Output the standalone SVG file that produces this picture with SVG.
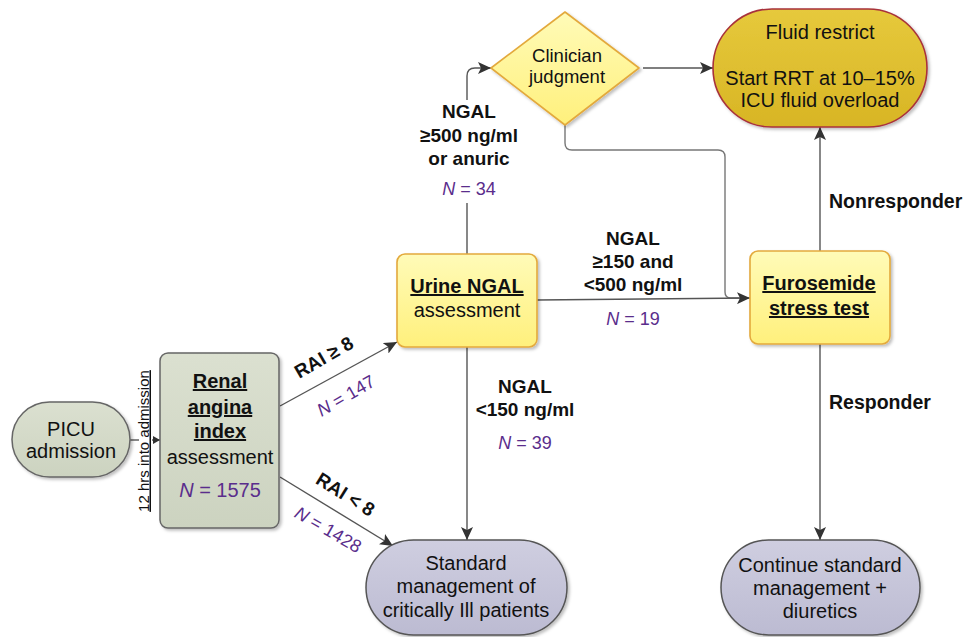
<svg xmlns="http://www.w3.org/2000/svg" width="964" height="637" viewBox="0 0 964 637">
<defs>
<linearGradient id="gYellow" x1="0" y1="0" x2="0" y2="1"><stop offset="0" stop-color="#fffbb8"/><stop offset="1" stop-color="#fff07c"/></linearGradient>
<linearGradient id="gGold" x1="0" y1="0" x2="0" y2="1"><stop offset="0" stop-color="#e6c93c"/><stop offset="1" stop-color="#d8b524"/></linearGradient>
<linearGradient id="gGreen" x1="0" y1="0" x2="0" y2="1"><stop offset="0" stop-color="#dbe0d0"/><stop offset="1" stop-color="#ccd3c0"/></linearGradient>
<linearGradient id="gLav" x1="0" y1="0" x2="0" y2="1"><stop offset="0" stop-color="#cfcee0"/><stop offset="1" stop-color="#bcbbd2"/></linearGradient>
<filter id="sh" x="-10%" y="-10%" width="130%" height="130%"><feDropShadow dx="2" dy="2" stdDeviation="1.5" flood-color="#000" flood-opacity="0.25"/></filter>
<marker id="arr" markerUnits="userSpaceOnUse" markerWidth="14" markerHeight="12" refX="13" refY="6" orient="auto"><path d="M0,0 L13,6 L0,12 L3,6 z" fill="#333"/></marker>
<marker id="arrS" markerUnits="userSpaceOnUse" markerWidth="8" markerHeight="8" refX="7" refY="4" orient="auto"><path d="M0,0 L7,4 L0,8 z" fill="#333"/></marker>
</defs>
<style>
text{font-family:"Liberation Sans",Arial,sans-serif;fill:#111}
.n{font-size:20px;text-anchor:middle}
.nb{font-size:20px;font-weight:bold;text-anchor:middle;text-decoration:underline}
.lb{font-size:19px;font-weight:bold;text-anchor:middle}
.ls{font-size:19px;font-weight:bold}
.lr{font-size:19.5px;font-weight:bold}
.pu{font-size:18px;fill:#5a2d8c;text-anchor:middle}
.pu tspan.i{font-style:italic;fill:#5a2d8c}
.c{fill:none;stroke:#555;stroke-width:1.4}
.c2{fill:none;stroke:#777;stroke-width:1.4}
.yb{fill:url(#gYellow);stroke:#e3a93c;stroke-width:1.6}
</style>
<rect width="964" height="637" fill="#fff"/>
<g id="connectors">
<path class="c" d="M130,440 H139"/>
<path class="c" d="M152,440 H160" marker-end="url(#arrS)"/>
<path class="c" d="M280,406 L397,342" marker-end="url(#arr)"/>
<path class="c" d="M280,477 L393,546" marker-end="url(#arr)"/>
<path class="c" d="M467,254 V203"/>
<path class="c" d="M467,100 V76 Q467,68 475,68 H491" marker-end="url(#arr)"/>
<path class="c" d="M643,68 H713" marker-end="url(#arr)"/>
<path class="c2" d="M565,125 V143 Q565,150 572,150 H718 Q725,150 725,157 V292 Q725,298 731,298 H740"/>
<path class="c" d="M537,300 L750,298" marker-end="url(#arr)"/>
<path class="c" d="M467,347 V540" marker-end="url(#arr)"/>
<path class="c" d="M820,251 V127" marker-end="url(#arr)"/>
<path class="c" d="M820,344 V540" marker-end="url(#arr)"/>
</g>
<g id="picu">
<rect x="12" y="402" width="118" height="75" rx="37.5" fill="url(#gGreen)" stroke="#666" stroke-width="1.5" filter="url(#sh)"/>
<text class="n" x="71" y="436">PICU</text>
<text class="n" x="71" y="458">admission</text>
</g>
<g id="label-12hrs">
<text x="0" y="0" transform="translate(148.5,441) rotate(-90)" style="font-size:15px;text-anchor:middle;text-decoration:underline">12 hrs into admission</text>
</g>
<g id="rai">
<rect x="160" y="353" width="119" height="175" rx="8" fill="url(#gGreen)" stroke="#666" stroke-width="1.5" filter="url(#sh)"/>
<text class="nb" x="220" y="388">Renal</text>
<text class="nb" x="220" y="414">angina</text>
<text class="nb" x="220" y="438">index</text>
<text class="n" x="220" y="464">assessment</text>
<text class="pu" x="220" y="497" style="font-size:20px"><tspan class="i">N</tspan> = 1575</text>
</g>
<g id="urine-ngal">
<rect class="yb" x="397" y="254" width="140" height="93" rx="8" filter="url(#sh)"/>
<text class="nb" x="467" y="293">Urine NGAL</text>
<text class="n" x="467" y="317">assessment</text>
</g>
<g id="clinician">
<path class="yb" d="M565,12 L639,68 L565,125 L491,68 Z" stroke-linejoin="round" filter="url(#sh)"/>
<text x="567" y="62" style="font-size:18.5px;text-anchor:middle">Clinician</text>
<text x="567" y="83" style="font-size:18.5px;text-anchor:middle">judgment</text>
</g>
<g id="fluid-restrict">
<rect x="713" y="9" width="214" height="118" rx="59" fill="url(#gGold)" stroke="#a8323a" stroke-width="1.6" filter="url(#sh)"/>
<text class="n" x="820" y="39">Fluid restrict</text>
<text class="n" x="820" y="85">Start RRT at 10–15%</text>
<text class="n" x="820" y="107">ICU fluid overload</text>
</g>
<g id="furosemide">
<rect class="yb" x="750" y="251" width="140" height="93" rx="8" filter="url(#sh)"/>
<text class="nb" x="819" y="290">Furosemide</text>
<text class="nb" x="819" y="315">stress test</text>
</g>
<g id="standard">
<rect x="366" y="540" width="201" height="95" rx="47.5" fill="url(#gLav)" stroke="#555" stroke-width="1.5" filter="url(#sh)"/>
<text class="n" x="466" y="570">Standard</text>
<text class="n" x="466" y="593">management of</text>
<text class="n" x="466" y="617">critically Ill patients</text>
</g>
<g id="continue">
<rect x="721" y="540" width="199" height="95" rx="47.5" fill="url(#gLav)" stroke="#555" stroke-width="1.5" filter="url(#sh)"/>
<text class="n" x="820" y="572">Continue standard</text>
<text class="n" x="820" y="595">management +</text>
<text class="n" x="820" y="618">diuretics</text>
</g>
<g id="labels">
<text class="ls" transform="translate(327,363) rotate(-30)" text-anchor="middle">RAI ≥ 8</text>
<text class="pu" transform="translate(349,401) rotate(-30)"><tspan class="i">N</tspan> = 147</text>
<text class="ls" transform="translate(342,500) rotate(32)" text-anchor="middle">RAI &lt; 8</text>
<text class="pu" transform="translate(325,535) rotate(30)"><tspan class="i">N</tspan> = 1428</text>
<text class="lb" x="469" y="118">NGAL</text>
<text class="lb" x="469" y="142">≥500 ng/ml</text>
<text class="lb" x="469" y="165">or anuric</text>
<text class="pu" x="469" y="195"><tspan class="i">N</tspan> = 34</text>
<text class="lb" x="633" y="245">NGAL</text>
<text class="lb" x="633" y="268">≥150 and</text>
<text class="lb" x="633" y="291">&lt;500 ng/ml</text>
<text class="pu" x="633" y="325"><tspan class="i">N</tspan> = 19</text>
<text class="lb" x="525" y="393">NGAL</text>
<text class="lb" x="525" y="416">&lt;150 ng/ml</text>
<text class="pu" x="525" y="449"><tspan class="i">N</tspan> = 39</text>
<text class="lr" x="829" y="208">Nonresponder</text>
<text class="lr" x="829" y="409">Responder</text>
</g>
</svg>
